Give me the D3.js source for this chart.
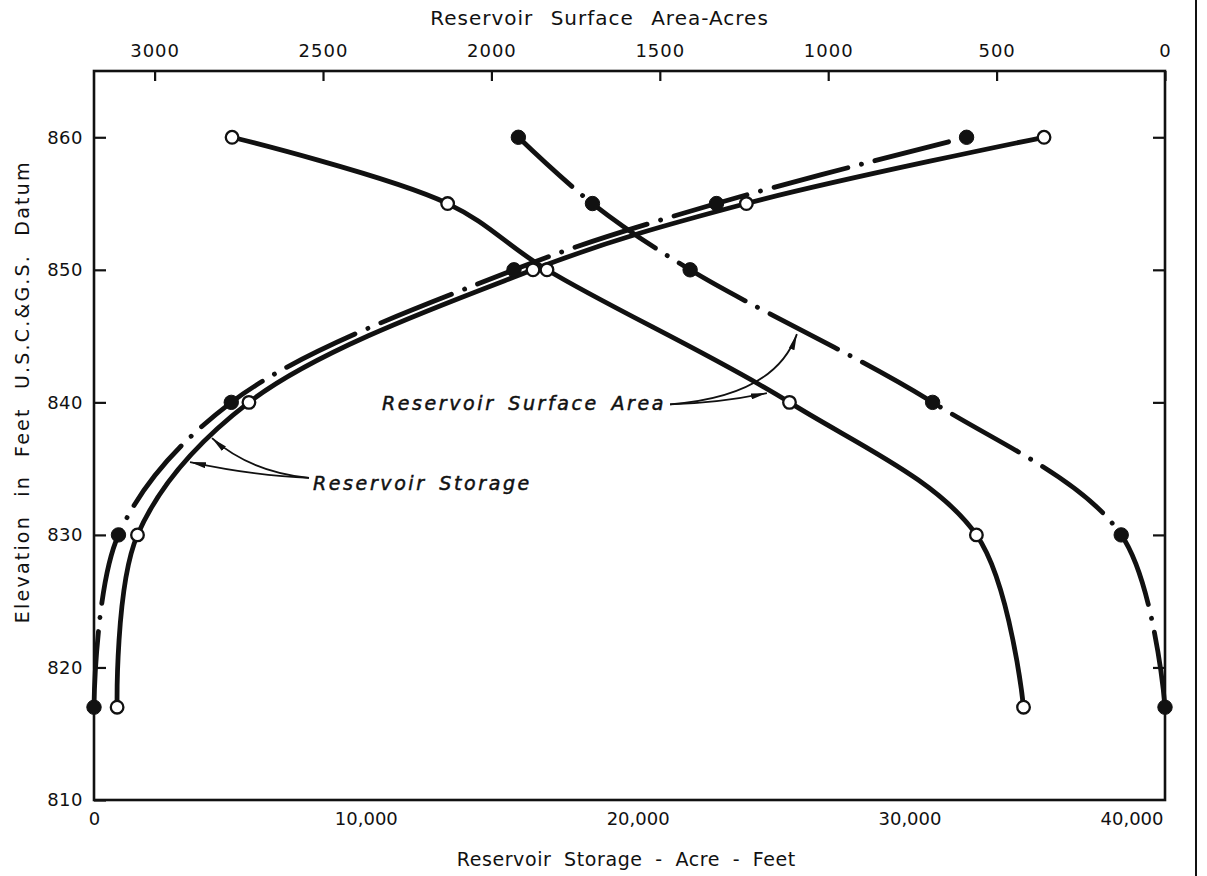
<!DOCTYPE html>
<html>
<head>
<meta charset="utf-8">
<script src="https://cdn.jsdelivr.net/npm/d3@7"></script>
<style>
  body { margin: 0; background: #fff; }
  svg { display: block; }
  text { font-family: "DejaVu Sans", sans-serif; fill: #111; }
</style>
</head>
<body>
<svg id="chart" width="1207" height="876"></svg>
<script>
// Elevation (ft) at which each curve point was computed
const elevations = [817, 830, 840, 850, 855, 860];

// Reservoir storage, acre-feet (bottom axis)
const storageSolid   = [850, 1600, 5700, 16150, 24000, 34950];
const storageDashDot = [0, 900, 5050, 15450, 22900, 32100];

// Reservoir surface area, acres (top axis, reversed)
const areaSolid   = [420, 560, 1115, 1835, 2130, 2770];
const areaDashDot = [0, 130, 690, 1410, 1700, 1920];

// Axis ticks and labels
const elevationTicks = [810, 820, 830, 840, 850, 860];
const storageTicks = [0, 10000, 20000, 30000, 40000];
const storageTickLabels = ["0", "10,000", "20,000", "30,000", "40,000"];
const areaTicks = [3000, 2500, 2000, 1500, 1000, 500, 0];

const svg = d3.select("#chart");
const margin = { left: 94, top: 71, right: 42, bottom: 76 };
const W = 1207 - margin.left - margin.right;
const H = 876 - margin.top - margin.bottom;
const g = svg.append("g").attr("transform", `translate(${margin.left},${margin.top})`);

const y = d3.scaleLinear().domain([810, 865]).range([H, 0]);
const xStorage = d3.scaleLinear().domain([0, 39400]).range([0, W]);
const xArea = d3.scaleLinear().domain([3180, 0]).range([0, W]);

// ---- Frame ----
g.append("rect")
  .attr("x", 0).attr("y", 0).attr("width", W).attr("height", H)
  .attr("fill", "none").attr("stroke", "#111").attr("stroke-width", 2.6);

// page edge rule at right
svg.append("line")
  .attr("x1", 1196).attr("x2", 1196).attr("y1", 0).attr("y2", 876)
  .attr("stroke", "#111").attr("stroke-width", 2);

const tickStyle = sel => {
  sel.select(".domain").remove();
  sel.selectAll(".tick line").attr("stroke", "#111").attr("stroke-width", 2.2);
  sel.selectAll(".tick text").attr("fill", "#111");
};

// Left elevation axis (ticks point inward)
g.append("g")
  .call(d3.axisLeft(y).tickValues(elevationTicks).tickSize(-12).tickPadding(11))
  .call(tickStyle)
  .selectAll("text").attr("font-size", 18).attr("letter-spacing", 0.5);

// Right elevation ticks
g.append("g")
  .attr("transform", `translate(${W},0)`)
  .call(d3.axisRight(y).tickValues(elevationTicks.slice(1)).tickSize(-12).tickFormat(""))
  .call(tickStyle);

// Top surface-area axis
g.append("g")
  .call(d3.axisTop(xArea).tickValues(areaTicks).tickSize(-10).tickPadding(14).tickFormat(d3.format("d")))
  .call(tickStyle)
  .selectAll("text").attr("font-size", 18).attr("letter-spacing", 1);

// Bottom storage axis (labels only)
const bottomAxis = g.append("g")
  .attr("transform", `translate(0,${H})`)
  .call(d3.axisBottom(xStorage).tickValues(storageTicks).tickSize(0).tickPadding(12)
        .tickFormat((d, i) => storageTickLabels[i]))
  .call(tickStyle);
bottomAxis.selectAll("text").attr("font-size", 18);
// keep the last label inside the frame edge
bottomAxis.selectAll(".tick").filter(d => xStorage(d) > W)
  .select("text").attr("text-anchor", "end").attr("x", d => W - xStorage(d) - 2);

// ---- Axis titles ----
svg.append("text")
  .attr("x", margin.left + W * 0.472).attr("y", 25)
  .attr("text-anchor", "middle").attr("font-size", 20).attr("word-spacing", 10)
  .attr("letter-spacing", 1)
  .text("Reservoir Surface Area-Acres");

svg.append("text")
  .attr("x", margin.left + W * 0.497).attr("y", 866)
  .attr("text-anchor", "middle").attr("font-size", 19).attr("word-spacing", 6)
  .attr("letter-spacing", 0.6)
  .text("Reservoir Storage - Acre - Feet");

svg.append("text")
  .attr("transform", `translate(29,${margin.top + y(840.8)}) rotate(-90)`)
  .attr("text-anchor", "middle").attr("font-size", 19).attr("word-spacing", 10)
  .attr("letter-spacing", 2.2)
  .text("Elevation in Feet U.S.C.&G.S. Datum");

// ---- Curves ----
const series = [
  { x: xStorage, values: storageSolid,   dashed: false },
  { x: xStorage, values: storageDashDot, dashed: true },
  { x: xArea,    values: areaSolid,      dashed: false },
  { x: xArea,    values: areaDashDot,    dashed: true }
];

const curveLine = d3.line().curve(d3.curveCatmullRom.alpha(0.5));

series.forEach(s => {
  const pts = elevations.map((e, i) => [s.x(s.values[i]), y(e)]);
  g.append("path")
    .attr("d", curveLine(pts))
    .attr("fill", "none")
    .attr("stroke", "#111")
    .attr("stroke-width", 4.8)
    .attr("stroke-linecap", "round")
    .attr("stroke-dasharray", s.dashed ? "76,14,0.1,14" : null);
});

series.forEach(s => {
  g.selectAll(null)
    .data(elevations.map((e, i) => ({ e, v: s.values[i] })))
    .join("circle")
    .attr("cx", d => s.x(d.v))
    .attr("cy", d => y(d.e))
    .attr("r", s.dashed ? 7.2 : 6.3)
    .attr("fill", s.dashed ? "#111" : "#fff")
    .attr("stroke", "#111")
    .attr("stroke-width", s.dashed ? 1 : 2.3);
});

// ---- Annotations ----
svg.append("defs").append("marker")
  .attr("id", "arrow").attr("viewBox", "0 0 16 6")
  .attr("refX", 16).attr("refY", 3)
  .attr("markerWidth", 16).attr("markerHeight", 6)
  .attr("markerUnits", "userSpaceOnUse").attr("orient", "auto")
  .append("path").attr("d", "M0,0 L16,3 L0,6 Z").attr("fill", "#111");

const quad = (a, c, b) => `M${a[0]},${a[1]} Q${c[0]},${c[1]} ${b[0]},${b[1]}`;
const noteStyle = sel => sel
  .attr("font-size", 19).attr("font-style", "italic").attr("letter-spacing", 2.6)
  .attr("word-spacing", 4).attr("stroke", "#111").attr("stroke-width", 0.5);

// Surface-area note
const areaText = g.append("text")
  .attr("x", xArea(2325)).attr("y", y(839.4))
  .call(noteStyle)
  .text("Reservoir Surface Area");
const ab = areaText.node().getBBox();
const aStart = [ab.x + ab.width + 4, y(839.4) - 6];
const aTip1 = [xArea(1182), y(840.7)];
const aTip2 = [xArea(1093), y(845.15)];
g.append("path")
  .attr("d", quad(aStart, [(aStart[0] + aTip1[0]) / 2, aStart[1] - 1], aTip1))
  .attr("fill", "none").attr("stroke", "#111").attr("stroke-width", 1.8)
  .attr("marker-end", "url(#arrow)");
g.append("path")
  .attr("d", quad(aStart, [aTip2[0] - 22, aStart[1] - 8], aTip2))
  .attr("fill", "none").attr("stroke", "#111").attr("stroke-width", 1.8)
  .attr("marker-end", "url(#arrow)");

// Storage note
g.append("text")
  .attr("x", xStorage(8057)).attr("y", y(833.4))
  .call(noteStyle)
  .text("Reservoir Storage");
const sStart = [xStorage(8057) - 4, y(833.4) - 12];
const sTipA = [xStorage(3532), y(835.5)];
const sTipB = [xStorage(4341), y(837.3)];
g.append("path")
  .attr("d", quad(sStart, [(sStart[0] + sTipA[0]) / 2 + 6, sStart[1] - 2], sTipA))
  .attr("fill", "none").attr("stroke", "#111").attr("stroke-width", 1.8)
  .attr("marker-end", "url(#arrow)");
g.append("path")
  .attr("d", quad(sStart, [sTipB[0] + 38, sStart[1] - 6], sTipB))
  .attr("fill", "none").attr("stroke", "#111").attr("stroke-width", 1.8)
  .attr("marker-end", "url(#arrow)");
</script>
</body>
</html>
